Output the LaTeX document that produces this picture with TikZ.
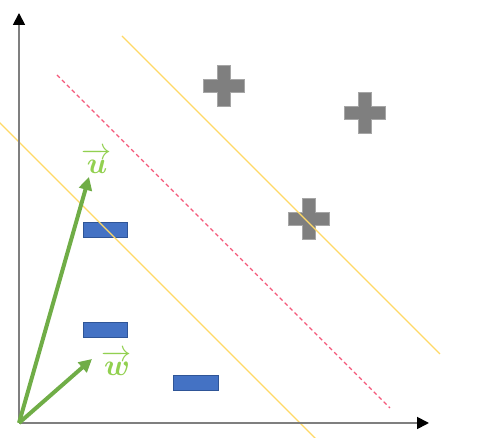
\documentclass[tikz,border=0pt]{standalone}
\usepackage{amsmath,bm,graphicx}
\usetikzlibrary{arrows.meta,calc}
\definecolor{axisgray}{HTML}{7F7F7F}
\definecolor{margin}{HTML}{FFD966}
\definecolor{hyper}{HTML}{F4587A}
\definecolor{plusfill}{HTML}{7F7F7F}
\definecolor{plusedge}{HTML}{A6A6A6}
\definecolor{minusfill}{HTML}{4472C4}
\definecolor{minusedge}{HTML}{2F5597}
\definecolor{vecgreen}{HTML}{70AD47}
\definecolor{labgreen}{HTML}{92D050}
\tikzset{
  axis/.style={draw=axisgray,line width=1.8pt,-{Triangle[width=12pt,length=12pt,color=black]}},
  marginline/.style={draw=margin,line width=1.3pt},
  hyperline/.style={draw=hyper,line width=1.2pt,dash pattern=on 4pt off 3pt},
  minusbox/.style={draw=minusedge,fill=minusfill,line width=0.8pt,minimum width=44pt,minimum height=15pt,inner sep=0pt},
  vecarrow/.style={draw=vecgreen,line width=4pt,-{Triangle[width=13pt,length=13pt]}},
  veclabel/.style={text=labgreen,inner sep=0pt,font=\huge},
  plus/.pic={
    \fill[plusfill,draw=plusedge,line width=0.8pt]
      (-6.5,-20.5) -- (6.5,-20.5) -- (6.5,-6.5) -- (20.5,-6.5) -- (20.5,6.5) -- (6.5,6.5)
      -- (6.5,20.5) -- (-6.5,20.5) -- (-6.5,6.5) -- (-20.5,6.5) -- (-20.5,-6.5) -- (-6.5,-6.5) -- cycle;
  }
}
\begin{document}
\begin{tikzpicture}[x=1pt,y=1pt]
\useasboundingbox (0,0) rectangle (480,438);
\clip (0,0) rectangle (480,438);
% data points
\pic at (224,352) {plus};
\pic at (365,325) {plus};
\pic at (309,219) {plus};
\node[minusbox] (m1) at (105,208.5) {};
\node[minusbox] (m2) at (105,108.5) {};
\node[minusbox,minimum width=45pt] (m3) at (195.5,55.5) {};
% lines
\coordinate (a1) at (-2,317);
\coordinate (a2) at (316,-1);
\coordinate (b1) at (122,402);
\coordinate (b2) at (440,84);
\coordinate (h1) at (57,363);
\coordinate (h2) at (390,30);
\draw[marginline] (a1) -- (a2);
\draw[marginline] (b1) -- (b2);
\draw[hyperline] (h1) -- (h2);
% axes
\coordinate (O) at (19,15);
\coordinate (ytop) at (19,425);
\coordinate (xend) at (429,15);
\draw[axis] (O) -- (ytop);
\draw[axis] (O) -- (xend);
% vectors
\coordinate (ut) at (89,261);
\coordinate (wt) at (92,79);
\draw[vecarrow] (O) -- (ut);
\draw[vecarrow] (O) -- (wt);
\node[veclabel] (ul) at (97,277) {\scalebox{1.45}{$\overrightarrow{\bm{u}}$}};
\node[veclabel] (wl) at (117,75) {\scalebox{1.45}{$\overrightarrow{\bm{w}}$}};
\end{tikzpicture}
\end{document}
